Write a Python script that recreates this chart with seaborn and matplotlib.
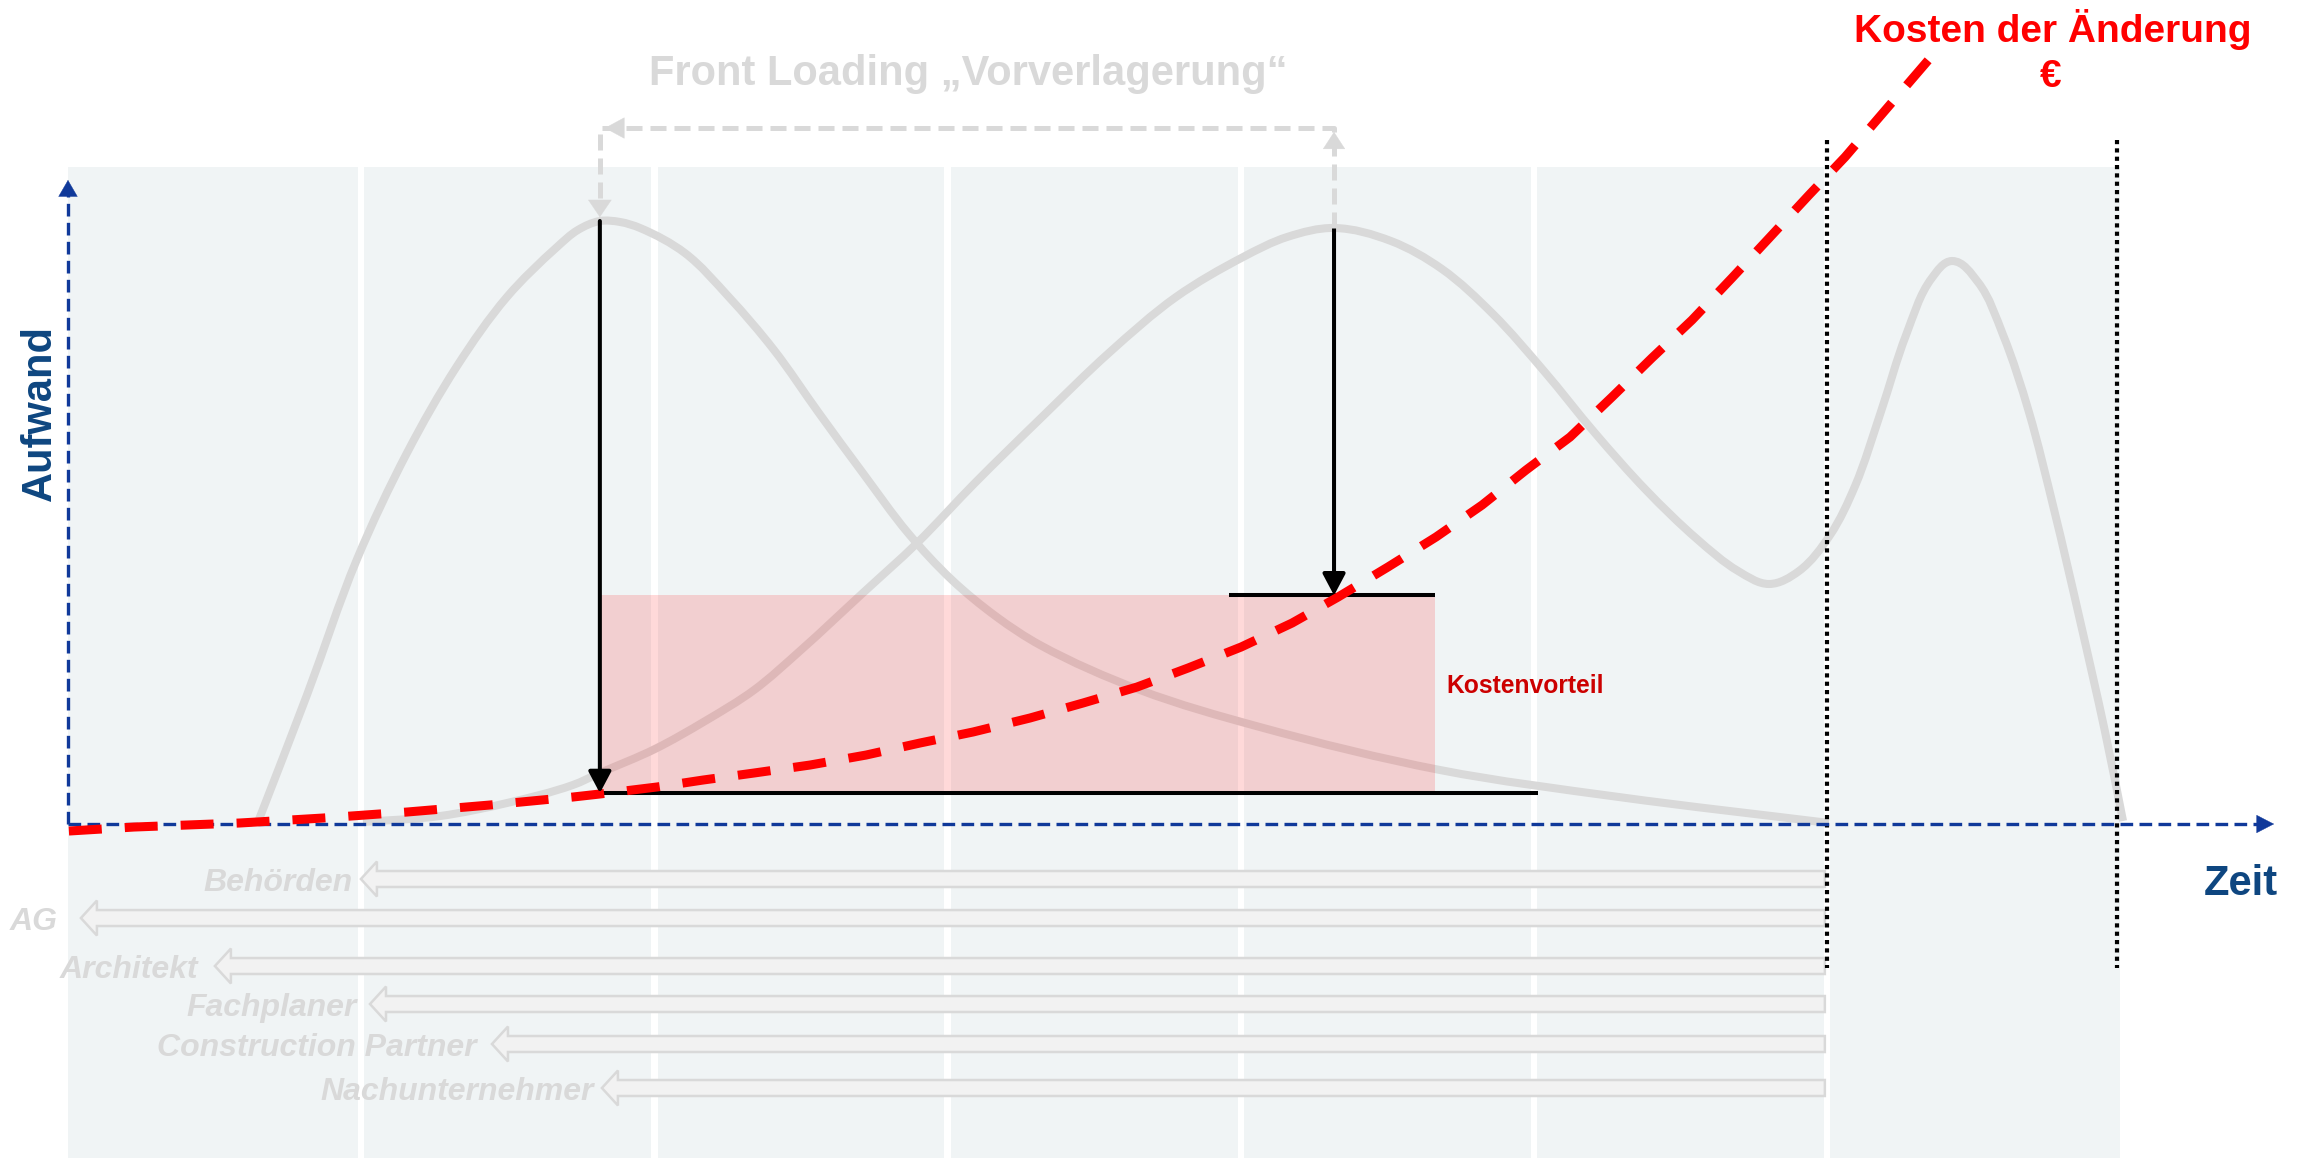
import numpy as np
import pandas as pd
import matplotlib
matplotlib.use("Agg")
import matplotlib.pyplot as plt
from matplotlib.patches import FancyArrow, ArrowStyle, PathPatch
from matplotlib.path import Path
import seaborn as sns

# ---------------------------------------------------------------
# Data: time in project phases (0..7), effort / cost on a 0..100 scale
# ---------------------------------------------------------------
phase_edges = [0, 1, 2, 3, 4, 5, 6, 7]

# effort curve with front loading (early peak)
frontload_x = [0.648, 0.815, 0.986, 1.156, 1.327, 1.497, 1.668, 1.739, 1.814,
               1.883, 1.951, 2.104, 2.254, 2.408, 2.561, 2.711, 2.865, 3.015,
               3.168, 3.315, 3.656, 4.065, 4.679, 5.290, 6.006]
frontload_y = [0.31, 20.03, 41.15, 57.61, 71.12, 81.83, 89.60, 92.24, 93.63,
               93.48, 92.55, 88.66, 81.83, 73.60, 63.82, 54.50, 45.19, 37.89,
               32.14, 27.80, 20.81, 15.06, 8.39, 4.19, 0.16]

# conventional effort curve (late peak, second peak after hand-over)
traditional_x = [1.006, 1.269, 1.497, 1.722, 1.814, 2.002, 2.173, 2.340, 2.500,
                 2.711, 2.896, 3.093, 3.322, 3.550, 3.779, 4.008, 4.158, 4.318,
                 4.512, 4.686, 4.860, 5.034, 5.208, 5.382, 5.556, 5.696, 5.802,
                 5.904, 6.010, 6.095, 6.183, 6.269, 6.357, 6.426, 6.514, 6.600,
                 6.688, 6.774, 6.862, 6.947, 7.009]
traditional_y = [0.31, 1.24, 3.26, 6.06, 7.92, 11.65, 15.99, 20.81, 27.02,
                 35.87, 43.63, 52.95, 63.20, 73.14, 81.83, 88.04, 91.15, 92.55,
                 90.53, 86.18, 79.19, 70.34, 60.71, 51.86, 44.25, 39.29, 37.27,
                 39.29, 44.88, 52.48, 63.98, 75.93, 84.78, 87.42, 84.16, 75.93,
                 63.98, 48.76, 31.68, 14.44, 0.47]

# cost of a change over time
change_cost_x = [0.003, 0.225, 0.587, 0.870, 1.156, 1.439, 1.722, 1.814, 2.009,
                 2.166, 2.340, 2.531, 2.722, 2.906, 3.087, 3.281, 3.462, 3.646,
                 3.820, 4.001, 4.175, 4.332, 4.502, 4.666, 4.823, 4.973, 5.123,
                 5.266, 5.402, 5.539, 5.675, 5.802, 5.938, 6.061, 6.354]
change_cost_y = [-1.09, -0.47, 0.16, 0.93, 1.86, 2.95, 4.19, 4.66, 5.75,
                 6.83, 7.92, 9.16, 10.71, 12.58, 14.29, 16.46, 18.79, 21.27,
                 24.22, 27.48, 31.21, 35.25, 39.91, 44.57, 49.53, 54.97, 60.09,
                 66.30, 72.36, 78.26, 84.78, 90.99, 97.67, 103.57, 119.10]

# cost levels of an early and a late change (cost advantage band)
cost_early = 4.8
cost_late = 35.5
benefit_x = [1.818, 4.662]

# project parties and the phase from which they are involved
party_names = ["Behörden", "AG", "Architekt", "Fachplaner",
               "Construction Partner", "Nachunternehmer"]
party_start = [0.999, 0.044, 0.501, 1.030, 1.446, 1.821]
party_end = 5.992
party_row = [-8.54, -14.60, -22.05, -27.95, -34.16, -40.99]

# phase boundaries marked with dotted lines
handover_x = [6.0, 6.99]

# ---------------------------------------------------------------
# Styling
# ---------------------------------------------------------------
sns.set_style("white")
plt.rcParams["font.family"] = ["Liberation Sans", "DejaVu Sans"]

PANEL = "#F0F4F5"
GREY = "#D9D9D9"
NAVY = "#10399A"
NAVY_TXT = "#0E4680"
RED = "#FF0000"
DARK_RED = "#CC0000"

FIG_W, FIG_H, DPI = 23.13, 11.58, 100
XLIM = (-0.2319, 7.6569)
YLIM = (-51.86, 127.95)
PANEL_TOP = 102.0

fig = plt.figure(figsize=(FIG_W, FIG_H), dpi=DPI)
ax = fig.add_axes([0, 0, 1, 1])
ax.set_xlim(*XLIM)
ax.set_ylim(*YLIM)

# pixels per data unit, used to keep curve tangents isotropic on screen
SX = FIG_W * DPI / (XLIM[1] - XLIM[0])
SY = FIG_H * DPI / (YLIM[1] - YLIM[0])


def smooth_curve(xs, ys):
    """Smooth cubic Bezier path passing through every given point."""
    P = np.column_stack([np.asarray(xs) * SX, np.asarray(ys) * SY])
    seg = np.diff(P, axis=0)
    seg_len = np.linalg.norm(seg, axis=1)
    u = seg / seg_len[:, None]
    T = np.empty_like(P)
    T[0] = u[0]
    T[-1] = u[-1]
    T[1:-1] = u[:-1] + u[1:]
    T /= np.linalg.norm(T, axis=1)[:, None]
    verts, codes = [P[0]], [Path.MOVETO]
    for i in range(len(P) - 1):
        d = seg_len[i] / 3.0
        verts += [P[i] + T[i] * d, P[i + 1] - T[i + 1] * d, P[i + 1]]
        codes += [Path.CURVE4] * 3
    V = np.array(verts)
    V[:, 0] /= SX
    V[:, 1] /= SY
    return Path(V, codes)


def head(ax, tip, direction, color, length, half_width, z):
    """Filled triangular arrow head (length / half width in points)."""
    dx, dy = direction
    back = (tip[0] - dx, tip[1] - dy)
    hyp = float(np.hypot(length, half_width))
    style = ArrowStyle("-|>", head_length=hyp, head_width=half_width * hyp / length)
    ax.annotate("", xy=tip, xytext=back,
                arrowprops=dict(arrowstyle=style, color=color, lw=0.3,
                                shrinkA=0, shrinkB=0, mutation_scale=1),
                zorder=z)


def arrow_line(ax, start, tip, color, lw, length, half_width, z):
    hyp = float(np.hypot(length, half_width))
    style = ArrowStyle("-|>", head_length=hyp, head_width=half_width * hyp / length)
    ax.annotate("", xy=tip, xytext=start,
                arrowprops=dict(arrowstyle=style, color=color, lw=lw,
                                shrinkA=0, shrinkB=0, mutation_scale=1),
                zorder=z)


# phase panels
gap = 0.011
lefts, widths = [], []
n_phases = len(phase_edges) - 1
for i in range(n_phases):
    left = phase_edges[i] + (gap if i > 0 else 0)
    right = phase_edges[i + 1] - (gap if i < n_phases - 1 else 0)
    lefts.append(left)
    widths.append(right - left)
ax.bar(lefts, PANEL_TOP - YLIM[0], bottom=YLIM[0], width=widths, align="edge",
       color=PANEL, linewidth=0, zorder=0)

# effort curves (smoothed through the effort values)
for cx, cy in ((frontload_x, frontload_y), (traditional_x, traditional_y)):
    ax.add_patch(PathPatch(smooth_curve(cx, cy), facecolor="none", edgecolor=GREY,
                           lw=5.8, capstyle="butt", joinstyle="round", zorder=2))

# cost advantage band
ax.bar(benefit_x[0], cost_late - cost_early, bottom=cost_early,
       width=benefit_x[1] - benefit_x[0], align="edge", color=RED, alpha=0.15,
       linewidth=0, zorder=3)

# parties involved (block arrows pointing back in time)
label_gap_pt = [5.8, 16.6, 12.2, 9.4, 10.8, 5.8]
for name, start, row, lg in zip(party_names, party_start, party_row, label_gap_pt):
    ax.add_patch(FancyArrow(party_end, row, start - party_end, 0, width=2.48,
                            head_width=5.43, head_length=0.0546,
                            length_includes_head=True, fc="#F2F2F2", ec=GREY,
                            lw=1.8, zorder=2))
    ax.annotate(name, (start, row), xytext=(-lg, -8.3), textcoords="offset points",
                ha="right", va="baseline", fontsize=23, fontweight="bold",
                fontstyle="italic", color=GREY, zorder=2)

# dotted phase markers
for hx in handover_x:
    ax.plot([hx, hx], [106.2, -22.3], color="black", lw=3.0,
            ls=(0, (1.0, 1.0)), dash_capstyle="butt", zorder=3)

# axes (dashed, with arrow heads)
axis_ls = (0, (3.8, 1.9))
ax.plot([0, 0], [0, 98.5], color=NAVY, lw=2.4, ls=axis_ls, dash_capstyle="butt", zorder=3.5)
head(ax, (0, 100.0), (0, 0.5), NAVY, 10.0, 5.8, 3.5)
ax.plot([0, 7.48], [0, 0], color=NAVY, lw=2.4, ls=axis_ls, dash_capstyle="butt", zorder=3.5)
head(ax, (7.524, 0), (0.01, 0), NAVY, 10.8, 5.6, 3.5)

# peaks of both effort curves
i_f = int(np.argmax(frontload_y))
i_t = int(np.argmax(traditional_y))
fx, fy = frontload_x[i_f], frontload_y[i_f]
tx, ty = traditional_x[i_t], traditional_y[i_t]

# cost level lines
ax.plot([benefit_x[0] - 0.005, 5.014], [cost_early, cost_early], color="black",
        lw=2.9, solid_capstyle="butt", zorder=4)
ax.plot([3.960, benefit_x[1]], [cost_late, cost_late], color="black",
        lw=2.9, solid_capstyle="butt", zorder=4)

# change cost curve
cost = pd.DataFrame({"Zeit": change_cost_x, "Kosten": change_cost_y})
sns.lineplot(data=cost, x="Zeit", y="Kosten", ax=ax, color=RED, lw=6.5,
             linestyle=(0, (3.65, 2.55)), dash_capstyle="butt",
             solid_joinstyle="round", estimator=None, sort=False, zorder=5)

# arrows from the effort peaks down to their change cost level
arrow_line(ax, (fx, fy), (fx, cost_early), "black", 2.9, 11.5, 6.1, 6)
arrow_line(ax, (tx, ty), (tx, cost_late), "black", 2.9, 11.5, 6.1, 6)

# front loading bracket
bracket_top = 108.07
ax.plot([tx, tx, fx, fx], [ty, bracket_top, bracket_top, fy + 1.5], color=GREY,
        lw=3.6, ls=(0, (3.2, 1.6)), dash_capstyle="butt", zorder=6)
head(ax, (tx, bracket_top - 0.6), (0, 0.5), GREY, 10.0, 6.5, 6)
head(ax, (fx + 0.017, bracket_top), (-0.01, 0), GREY, 12.0, 6.5, 6)
head(ax, (fx, fy + 0.6), (0, -0.5), GREY, 10.0, 6.8, 6)

# texts
ax.text(-0.058, 63.82, "Aufwand", rotation=90, rotation_mode="anchor",
        ha="center", va="baseline", fontsize=30, fontweight="bold", color=NAVY_TXT)
ax.text(7.411, -11.02, "Zeit", ha="center", va="baseline", fontsize=30,
        fontweight="bold", color=NAVY_TXT)
ax.text(3.070, 114.75, "Front Loading „Vorverlagerung“", ha="center",
        va="baseline", fontsize=30, fontweight="bold", color=GREY)
ax.text(6.770, 121.43, "Kosten der Änderung", ha="center", va="baseline",
        fontsize=28, fontweight="bold", color=RED)
ax.text(6.763, 114.44, "€", ha="center", va="baseline", fontsize=28,
        fontweight="bold", color=RED)
ax.text(4.700, 20.34, "Kostenvorteil", ha="left", va="baseline", fontsize=17.7,
        fontweight="bold", color=DARK_RED)

ax.set_xlim(*XLIM)
ax.set_ylim(*YLIM)
ax.axis("off")

fig.savefig("out.png", dpi=DPI, facecolor="white")
